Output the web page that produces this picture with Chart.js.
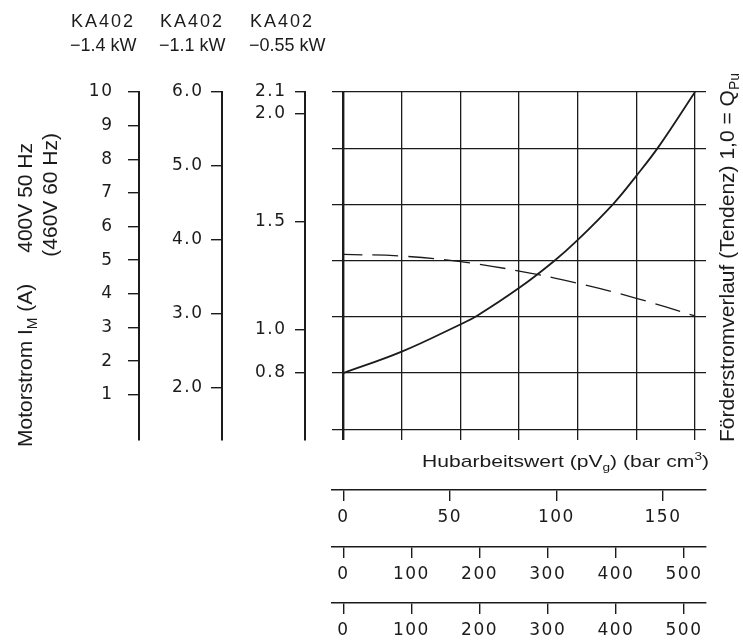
<!DOCTYPE html>
<html>
<head>
<meta charset="utf-8">
<script src="https://cdn.jsdelivr.net/npm/chart.js@4.4.0/dist/chart.umd.min.js"></script>
<style>
html, body { margin: 0; padding: 0; background: #fff; }
</style>
</head>
<body>
<canvas id="chart" width="743" height="640"></canvas>
<script>
// Hubarbeitswert pVg (bar cm3)
const motorX = [0, 27.4, 55.1, 62.6, 82.4, 98.5, 110, 126.7, 137.3, 148.3, 165];
// solid curve, in units of the 0.8 .. 2.1 axis
const motorY = [0.80, 0.899, 1.026, 1.064, 1.193, 1.315, 1.416, 1.583, 1.710, 1.852, 2.10];
// dashed curve (Förderstrom, Tendenz)
const flowX = [0, 27.5, 55, 82.5, 110, 137.5, 165];
const flowY = [1.349, 1.341, 1.315, 1.272, 1.215, 1.146, 1.064];

const ampTicks = [1, 2, 3, 4, 5, 6, 7, 8, 9, 10];
const amp2Ticks = [2, 3, 4, 5, 6];
const amp3Ticks = [0.8, 1.0, 1.5, 2.0, 2.1];
const gridYTicks = [0.54, 0.80, 1.06, 1.32, 1.58, 1.84, 2.10];
const gridXTicks = [0, 27.5, 55, 82.5, 110, 137.5, 165];
const pvTicks = [0, 50, 100, 150];
const scaleBTicks = [0, 100, 200, 300, 400, 500];
const scaleCTicks = [0, 100, 200, 300, 400, 500];

const headType = ["KA402", "KA402", "KA402"];
const headPower = ["\u22121.4 kW", "\u22121.1 kW", "\u22120.55 kW"];

const ink = "#1b1b1b";
const tickFont = { family: "DejaVu Sans", size: 17 };

function fixTicks(list) {
	return (s) => { s.ticks = list.map((v) => ({ value: v })); };
}
function fixW(w) { return (s) => { s.width = w; }; }
function fixH(h) { return (s) => { s.height = h; }; }

function leftAxis(weight, min, max, ticks, width, tickLen, pad, fmt) {
	return {
		type: "linear", position: "left", weight: weight, min: min, max: max,
		afterBuildTicks: fixTicks(ticks), afterFit: fixW(width),
		grid: { drawOnChartArea: false, tickLength: tickLen, color: ink, lineWidth: 1.4 },
		border: { display: true, color: ink, width: 2 },
		ticks: { font: tickFont, color: ink, padding: pad, autoSkip: false, callback: fmt },
	};
}
function bottomAxis(weight, min, max, ticks, height) {
	return {
		type: "linear", position: "bottom", weight: weight, min: min, max: max,
		afterBuildTicks: fixTicks(ticks), afterFit: fixH(height),
		grid: { drawOnChartArea: false, tickLength: 11, color: ink, lineWidth: 1.4 },
		border: { display: true, color: ink, width: 1.4 },
		ticks: { font: tickFont, color: ink, padding: 6, autoSkip: false, maxRotation: 0, callback: (v) => String(v) },
	};
}

function richText(ctx, parts, size, family, align) {
	const w = parts.map((p) => {
		ctx.font = Math.round(p.sub || p.sup ? size * 0.68 : size) + "px " + family;
		return ctx.measureText(p.t).width;
	});
	const total = w.reduce((a, b) => a + b, 0);
	let x = align === "right" ? -total : 0;
	parts.forEach((p, i) => {
		ctx.font = Math.round(p.sub || p.sup ? size * 0.68 : size) + "px " + family;
		const dy = p.sub ? size * 0.25 : p.sup ? -size * 0.4 : 0;
		ctx.fillText(p.t, x, dy);
		x += w[i];
	});
}

// wider tick lettering, like the drawing
const spacing = {
	id: "spacing",
	beforeUpdate(chart) { chart.ctx.letterSpacing = "1.5px"; },
	beforeDraw(chart) { chart.ctx.letterSpacing = "1.5px"; },
};

const textPlugin = {
	id: "texts",
	afterDraw(chart) {
		const ctx = chart.ctx;
		ctx.save();
		ctx.letterSpacing = "0px";
		ctx.fillStyle = ink;
		ctx.textAlign = "left";
		ctx.textBaseline = "alphabetic";

		// headers above the three current axes
		const headX = [71, 160, 250];
		ctx.font = "18px 'Liberation Sans'";
		headType.forEach((t, i) => {
			ctx.save();
			ctx.letterSpacing = "2px";
			ctx.fillText(t, headX[i], 27);
			ctx.restore();
		});
		headPower.forEach((t, i) => ctx.fillText(t, headX[i] - 1, 51));

		// left title
		const fam = "'Liberation Sans'";
		ctx.save();
		ctx.translate(31.5, 447);
		ctx.rotate(-Math.PI / 2);
		richText(ctx, [{ t: "Motorstrom I" }, { t: "M", sub: true }, { t: " (A)" }], 21, fam, "left");
		ctx.restore();
		ctx.save();
		ctx.translate(31.5, 143);
		ctx.rotate(-Math.PI / 2);
		richText(ctx, [{ t: "400V 50 Hz" }], 21, fam, "right");
		ctx.restore();
		ctx.save();
		ctx.translate(56.5, 133);
		ctx.rotate(-Math.PI / 2);
		richText(ctx, [{ t: "(460V 60 Hz)" }], 21, fam, "right");
		ctx.restore();

		// right title
		ctx.save();
		ctx.translate(734, 442);
		ctx.rotate(-Math.PI / 2);
		richText(ctx, [{ t: "F\u00f6rderstromverlauf (Tendenz) 1,0 = Q" }, { t: "Pu", sub: true }], 21, fam, "left");
		ctx.restore();

		// x title
		ctx.save();
		ctx.translate(709, 467);
		ctx.scale(1.24, 1);
		richText(ctx, [{ t: "Hubarbeitswert (pV" }, { t: "g", sub: true }, { t: ") (bar cm" }, { t: "3", sup: true }, { t: ")" }], 16.5, fam, "right");
		ctx.restore();

		ctx.restore();
	},
};

new Chart(document.getElementById("chart"), {
	type: "line",
	data: {
		datasets: [
			{
				label: "Motorstrom",
				data: motorX.map((x, i) => ({ x: x, y: motorY[i] })),
				borderColor: ink,
				borderWidth: 1.8,
				pointRadius: 0,
				tension: 0.4,
				xAxisID: "x",
				yAxisID: "y",
			},
			{
				label: "Förderstrom",
				data: flowX.map((x, i) => ({ x: x, y: flowY[i] })),
				borderColor: ink,
				borderWidth: 1.3,
				borderDash: [26, 10],
				borderDashOffset: 7,
				pointRadius: 0,
				tension: 0.4,
				xAxisID: "x",
				yAxisID: "y",
			},
		],
	},
	options: {
		responsive: false,
		animation: false,
		devicePixelRatio: 1,
		events: [],
		layout: { padding: { top: 92, right: 37, bottom: 0, left: 0 } },
		plugins: { legend: { display: false }, tooltip: { enabled: false } },
		scales: {
			y1: leftAxis(4, -0.345, 10, ampTicks, 139, 11, 14.5, (v) => String(v)),
			y2: leftAxis(3, 1.287, 6.0, amp2Ticks, 83, 11, 7.5, (v) => v.toFixed(1)),
			y3: leftAxis(2, 0.4904, 2.1, amp3Ticks, 83, 10, 8.5, (v) => v.toFixed(1)),
			y: {
				type: "linear", position: "left", weight: 1, min: 0.4904, max: 2.1,
				afterBuildTicks: fixTicks(gridYTicks), afterFit: fixW(27),
				grid: { drawTicks: false, color: ink, lineWidth: 1.3 },
				border: { display: false },
				ticks: { display: false },
			},
			x: {
				type: "linear", position: "bottom", weight: 1, min: -5.3, max: 170.16,
				afterBuildTicks: fixTicks(gridXTicks), afterFit: fixH(50),
				grid: { drawTicks: false, color: ink, lineWidth: (c) => (c.tick && c.tick.value === 0 ? 2.4 : 1.3) },
				border: { display: false },
				ticks: { display: false },
			},
			xa: bottomAxis(2, -5.3, 170.16, pvTicks, 57),
			xb: bottomAxis(3, -16.6, 532.3, scaleBTicks, 56),
			xc: bottomAxis(4, -16.6, 532.3, scaleCTicks, 37),
		},
	},
	plugins: [spacing, textPlugin],
});
</script>
</body>
</html>
